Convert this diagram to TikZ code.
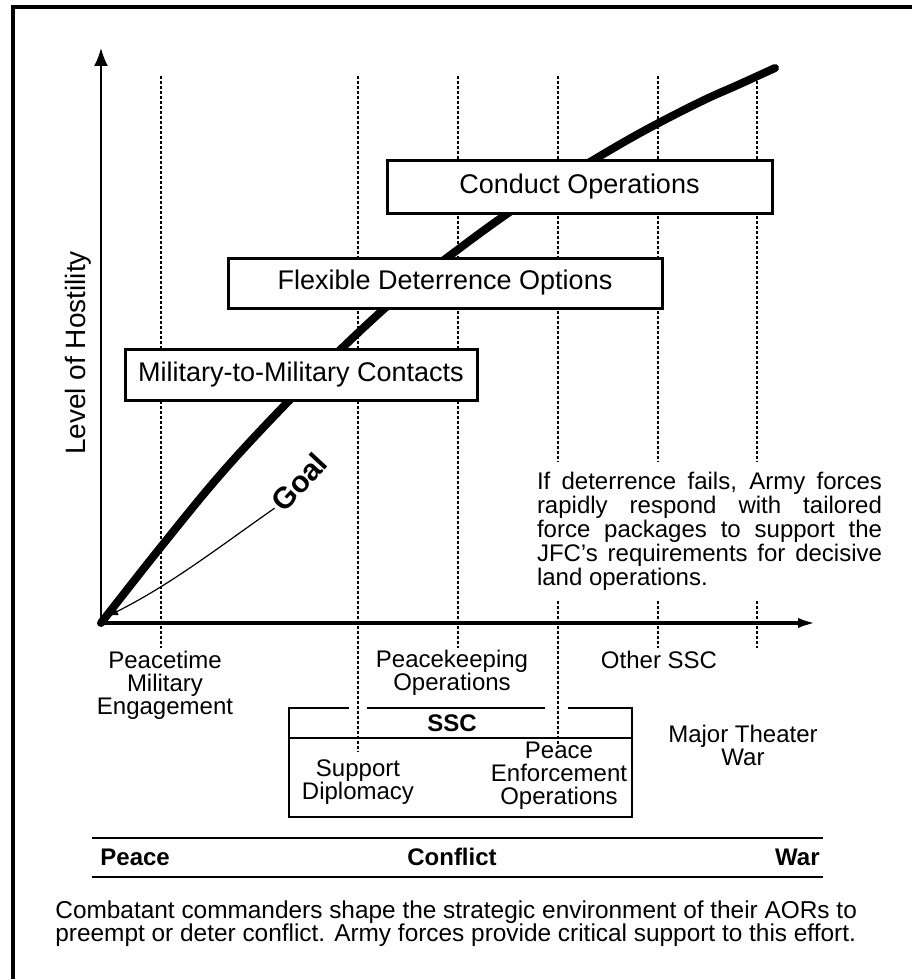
\documentclass[tikz,border=0pt]{standalone}
\usepackage{fontspec}
\setmainfont{Liberation Sans}
\usetikzlibrary{arrows.meta}

\tikzset{
  guide/.style={line width=0.6pt, dash pattern=on 1.5pt off 1pt},
  hostbox/.style={draw, line width=1.5pt, fill=white, inner sep=0pt, font=\fontsize{13.5}{13.5}\selectfont},
  lbl/.style={align=center, inner sep=0pt, font=\fontsize{12}{11.5}\selectfont},
  bandlbl/.style={inner sep=0pt, font=\bfseries\fontsize{12}{12}\selectfont},
  sscline/.style={line width=1pt},
}

\begin{document}
\begin{tikzpicture}[x=0.5pt, y=-0.5pt, >=Latex]
  \useasboundingbox (0,0) rectangle (912,979);
  % frame
  \draw[line width=2pt] (12.5,979) -- (12.5,7) -- (912,7);
  % guide lines
  \foreach \gx/\gy in {161/648, 358/752, 458/648, 558/744, 658/648, 757/648}
    \draw[guide] (\gx,76) -- (\gx,\gy);
  % hostility curve
  \draw[line width=4pt, line cap=round] plot[smooth, tension=0.6] coordinates {(101,623) (160,548) (220,475) (280,410) (340,350) (400,295) (460,248) (520,205) (580,168) (640,133) (700,102) (740,84) (775,68)};
  % boxes
  \node[hostbox, minimum width=192.5pt, minimum height=26.5pt] (conduct) at (579.5,186.5) {Conduct Operations};
  \node[hostbox, minimum width=217pt, minimum height=25pt] (fdo) at (445,283) {Flexible Deterrence Options};
  \node[hostbox, minimum width=176pt, minimum height=25.5pt] (mil) at (301,374.5) {Military-to-Military Contacts};
  % text
  \node[fill=white, inner sep=5pt, text width=172.5pt, align=justify, font=\fontsize{12}{12}\selectfont] (fails) at (709.5,531) {If deterrence fails, Army forces\linebreak rapidly respond with tailored\linebreak force packages to support the\linebreak JFC's requirements for decisive\linebreak land operations.};
  % axes
  \coordinate (O) at (101,623);
  \coordinate (ytip) at (101,48);
  \coordinate (xtip) at (818,623);
  \draw[line width=1pt, -{Latex[length=9pt,width=7pt]}] (O) -- (ytip);
  \draw[line width=2pt, -{Latex[length=10pt,width=5pt]}] (O) -- (xtip);
  \node[rotate=90, inner sep=0pt, font=\fontsize{14}{14}\selectfont] (hostility) at (78,353) {Level of Hostility};
  % goal
  \node[rotate=47, inner sep=1pt, font=\bfseries\fontsize{15}{15}\selectfont] (goal) at (299,482) {Goal};
  \coordinate (goaltip) at (108,616);
  \draw[line width=0.6pt, -{Latex[length=5pt,width=4pt]}] (goal.west) .. controls (215,550) and (170,585) .. (goaltip);
  % labels under the axis
  \node[lbl] (peacetime) at (165,685) {Peacetime\\Military\\Engagement};
  \node[lbl] (pko) at (452,673) {Peacekeeping\\Operations};
  \node[lbl] (otherssc) at (659,660) {Other SSC};
  \node[lbl] (mtw) at (743,745) {Major Theater\\War};
  % SSC box
  \draw[sscline] (349,708) -- (289,708) -- (289,817) -- (632,817) -- (632,708) -- (568,708);
  \draw[sscline] (367,708) -- (545,708);
  \draw[sscline] (289,738) -- (632,738);
  \node[bandlbl] (ssc) at (452,723) {SSC};
  \node[lbl] (sd) at (358,782) {Support\\Diplomacy};
  \node[lbl] (peo) at (559,776) {Peace\\Enforcement\\Operations};
  % peace - war band
  \draw[line width=0.9pt] (92,838) -- (823,838);
  \draw[line width=0.9pt] (92,877) -- (823,877);
  \node[bandlbl, anchor=west] (peace) at (100,857) {Peace};
  \node[bandlbl] (conflict) at (452,857) {Conflict};
  \node[bandlbl, anchor=east] (war) at (820,857) {War};
  % caption
  \node[lbl, align=left, anchor=west, font=\fontsize{12.2}{11.5}\selectfont] (caption) at (55,924) {Combatant commanders shape the strategic environment of their AORs to\\preempt or deter conflict. Army forces provide critical support to this effort.};
\end{tikzpicture}
\end{document}
